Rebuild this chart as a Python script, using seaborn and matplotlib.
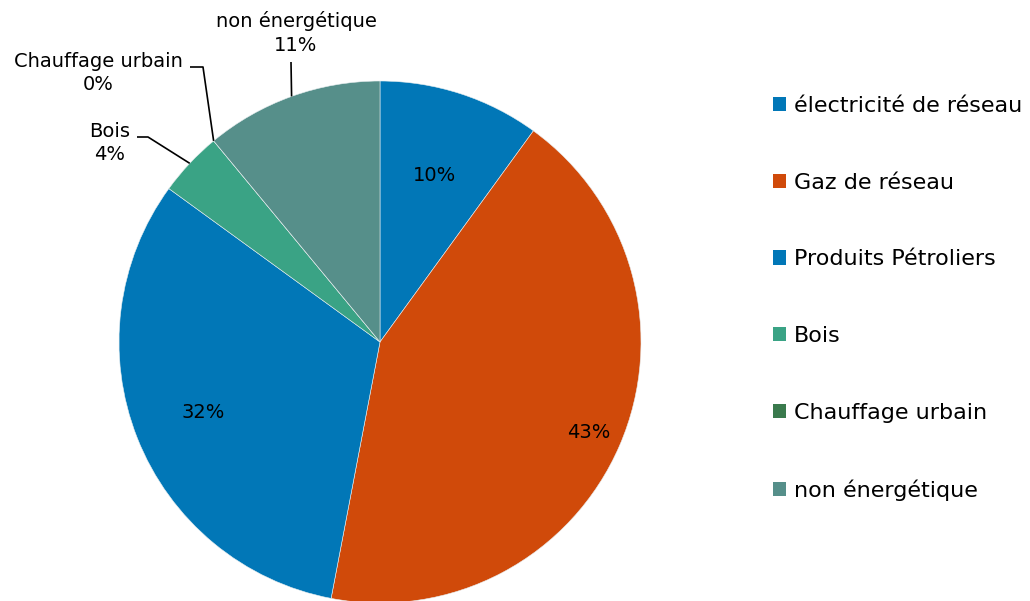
import numpy as np
import matplotlib
matplotlib.use("Agg")
import matplotlib.pyplot as plt
import seaborn as sns

# Consommation d'énergie par source (%)
categories = ["électricité de réseau", "Gaz de réseau", "Produits Pétroliers",
              "Bois", "Chauffage urbain", "non énergétique"]
values = [10, 43, 32, 4, 0, 11]
colors = ["#0177B7", "#D04A0A", "#0177B7", "#3AA385", "#3A7A4D", "#568F8A"]

sns.set_theme(style="white")
plt.rcParams["font.family"] = ["DejaVu Sans"]

W, H = 1030, 601
fig = plt.figure(figsize=(W / 100, H / 100), dpi=100)
ax = fig.add_axes([0, 0, 1, 1])

cx, cy, R = 380, H - 342, 261


def py(y):
    """Convert a top-down pixel row into the axes' y coordinate."""
    return H - y


wedges, _ = ax.pie(values, colors=colors, startangle=90, counterclock=False,
                   center=(cx, cy), radius=R, frame=True,
                   wedgeprops=dict(linewidth=0.4, edgecolor="#e8eef0"))
ax.set_xlim(0, W)
ax.set_ylim(0, H)
ax.set_aspect("equal")
ax.axis("off")


def point_on(w, frac):
    a = np.deg2rad((w.theta1 + w.theta2) / 2)
    return cx + frac * R * np.cos(a), cy + frac * R * np.sin(a)


fs = 14
# Percentages drawn inside the large slices
inside = {0: 0.67, 1: 0.87, 2: 0.73}
for i, frac in inside.items():
    x, y = point_on(wedges[i], frac)
    ax.text(x, y, f"{values[i]}%", ha="center", va="center",
            fontsize=fs, color="black")

# Outside labels with leader lines
outside = {
    5: dict(text=(296, 33), path=[(291, 62)]),
    4: dict(text=(98, 73), path=[(203, 67), (190, 67)]),
    3: dict(text=(110, 143), path=[(148, 137), (137, 137)]),
}
for i, spec in outside.items():
    w = wedges[i]
    if i == 4:
        a = np.deg2rad(w.theta1)
        ex, ey = cx + R * np.cos(a), cy + R * np.sin(a)
    else:
        ex, ey = point_on(w, 1.0)
    xs = [ex] + [p[0] for p in spec["path"]]
    ys = [ey] + [py(p[1]) for p in spec["path"]]
    ax.plot(xs, ys, color="black", linewidth=1.2, solid_capstyle="butt")
    tx, ty = spec["text"]
    ax.text(tx, py(ty), f"{categories[i]}\n{values[i]}%", ha="center",
            va="center", fontsize=fs, color="black", linespacing=1.3)

leg = ax.legend(wedges, categories, loc="upper left",
                bbox_to_anchor=(773 / W, 1 - 96 / H),
                bbox_transform=fig.transFigure, frameon=False,
                fontsize=16, handlelength=0.6, handleheight=0.6,
                handletextpad=0.35, labelspacing=2.55,
                borderpad=0, borderaxespad=0, labelcolor="black")
for h in leg.legend_handles:
    h.set_edgecolor("none")

fig.savefig("out.png", dpi=100, facecolor="white")
